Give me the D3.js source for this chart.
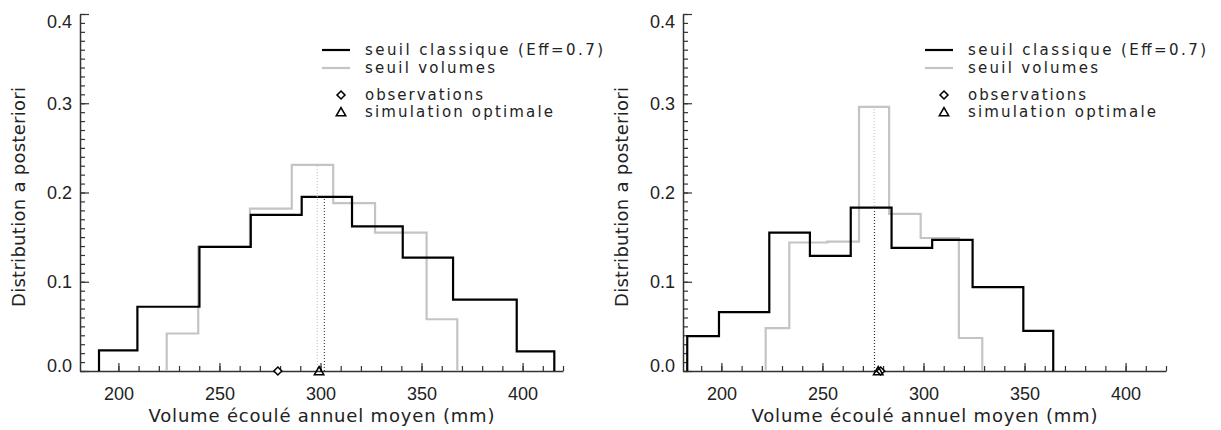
<!DOCTYPE html>
<html>
<head>
<meta charset="utf-8">
<script src="https://cdn.jsdelivr.net/npm/d3@7"></script>
<style>
  body { margin: 0; background: #fff; }
  svg { display: block; font-family: 'DejaVu Sans', sans-serif; }
  .tick text { font-size: 18px; fill: #222; }
  .label { font-size: 18px; fill: #222; }
  .legend-text { font-size: 15px; fill: #222; }
</style>
</head>
<body>
<svg id="chart"></svg>
<script>
const SVG_WIDTH = 1221;
const SVG_HEIGHT = 430;
const PANEL_OFFSET = 603;

// Axis ticks.
const xDomain = [181, 420];
const yDomain = [0, 0.4];
const xMajorTicks = [200, 250, 300, 350, 400];
const xMinorTicks = d3.range(190, 421, 10);
const yMajorTicks = [0, 0.1, 0.2, 0.3, 0.4];
const yMinorTicks = d3.range(0, 41).map(d => d / 100);

const xTitle = 'Volume écoulé annuel moyen (mm)';
const yTitle = 'Distribution a posteriori';
const legendLabels = ['seuil classique (Eff=0.7)', 'seuil volumes', 'observations', 'simulation optimale'];

// Left panel: bin edges and heights.
const leftClassiqueEdges = [190.4, 209.4, 240.1, 265.5, 290.7, 315.6, 340.7, 365.6, 397.1, 415.7];
const leftClassiqueValues = [0.023, 0.072, 0.139, 0.175, 0.195, 0.162, 0.127, 0.080, 0.022];
const leftVolumesEdges = [223.9, 239.5, 265.1, 285.8, 306.3, 327.0, 352.5, 367.7];
const leftVolumesValues = [0.042, 0.139, 0.182, 0.231, 0.188, 0.155, 0.058];
const leftMeanClassique = 301.9;
const leftMeanVolumes = 298.4;
const leftObservation = 278.9;
const leftSimulation = 299.3;

// Right panel.
const rightClassiqueEdges = [183.1, 198.8, 223.7, 243.8, 264.0, 284.2, 304.3, 324.3, 349.4, 364.2];
const rightClassiqueValues = [0.039, 0.066, 0.155, 0.129, 0.183, 0.138, 0.147, 0.094, 0.045];
const rightVolumesEdges = [221.9, 233.6, 252.4, 268.1, 283.0, 298.6, 317.5, 329.1];
const rightVolumesValues = [0.048, 0.144, 0.145, 0.296, 0.176, 0.149, 0.037];
const rightMeanClassique = 275.8;
const rightMeanVolumes = 275.6;
const rightObservation = 278.8;
const rightSimulation = 277.6;

const svg = d3
  .select('#chart')
  .attr('width', SVG_WIDTH)
  .attr('height', SVG_HEIGHT)
  .attr('viewBox', `0 0 ${SVG_WIDTH} ${SVG_HEIGHT}`);

const x = d3.scaleLinear().domain(xDomain).range([80, 563]);
const y = d3.scaleLinear().domain(yDomain).range([371, 14]);

const diamond = d3.symbol().type(d3.symbolDiamond2).size(40);
const triangle = d3.symbol().type(d3.symbolTriangle2).size(62);

// Turn edges/values into a step outline that starts and ends on the axis.
function stepPoints(edges, values) {
  const pts = [[edges[0], 0]];
  values.forEach((v, i) => pts.push([edges[i], v]));
  pts.push([edges[edges.length - 1], 0]);
  return pts;
}

function valueAt(edges, values, v) {
  const i = d3.bisectRight(edges, v) - 1;
  return values[Math.max(0, Math.min(values.length - 1, i))];
}

const stepLine = d3
  .line()
  .x(d => x(d[0]))
  .y(d => y(d[1]))
  .curve(d3.curveStepAfter);

function drawPanel(offset, p) {
  const g = svg.append('g').attr('transform', `translate(${offset},0)`);

  // Minor ticks first, then major ticks with labels.
  g.append('g')
    .attr('transform', `translate(0,${y(0)})`)
    .call(d3.axisBottom(x).tickValues(xMinorTicks).tickSize(-5).tickSizeOuter(0).tickFormat(''))
    .call(a => a.select('.domain').remove());
  g.append('g')
    .attr('transform', `translate(${x(xDomain[0])},0)`)
    .call(d3.axisLeft(y).tickValues(yMinorTicks).tickSize(-5).tickSizeOuter(0).tickFormat(''))
    .call(a => a.select('.domain').remove());

  g.append('g')
    .attr('transform', `translate(0,${y(0)})`)
    .call(d3.axisBottom(x).tickValues(xMajorTicks).tickSize(-8).tickSizeOuter(0).tickPadding(16));
  const yAxis = g
    .append('g')
    .attr('transform', `translate(${x(xDomain[0])},0)`)
    .call(d3.axisLeft(y).tickValues(yMajorTicks).tickSize(-9).tickSizeOuter(0).tickPadding(8).tickFormat(d3.format('.1f')));

  // Edge labels are nudged inside the axis range, as in the original plot.
  yAxis.selectAll('.tick text').attr('y', d => (d === 0 ? -5 : d === 0.4 ? 7.5 : 0));

  g.selectAll('.tick line').attr('stroke', '#333').attr('stroke-width', 1.2);
  g.selectAll('.domain').attr('stroke', '#333').attr('stroke-width', 1.5);

  // Histograms: grey (volumes) under black (classique).
  g.append('path')
    .attr('d', stepLine(stepPoints(p.volEdges, p.volValues)))
    .attr('fill', 'none')
    .attr('stroke', '#c4c4c4')
    .attr('stroke-width', 2.2);
  g.append('path')
    .attr('d', stepLine(stepPoints(p.clsEdges, p.clsValues)))
    .attr('fill', 'none')
    .attr('stroke', '#000')
    .attr('stroke-width', 2.2);

  // Dotted lines at the means, up to the histogram.
  g.append('line')
    .attr('x1', x(p.meanVol)).attr('x2', x(p.meanVol))
    .attr('y1', y(0)).attr('y2', y(valueAt(p.volEdges, p.volValues, p.meanVol)))
    .attr('stroke', '#bbb').attr('stroke-width', 1).attr('stroke-dasharray', '1,2');
  g.append('line')
    .attr('x1', x(p.meanCls)).attr('x2', x(p.meanCls))
    .attr('y1', y(0)).attr('y2', y(valueAt(p.clsEdges, p.clsValues, p.meanCls)))
    .attr('stroke', '#222').attr('stroke-width', 1).attr('stroke-dasharray', '1,2');

  // Observation and optimal simulation markers on the axis.
  g.append('path')
    .attr('d', diamond())
    .attr('transform', `translate(${x(p.obs)},${y(0)})`)
    .attr('fill', '#fff').attr('stroke', '#000').attr('stroke-width', 1.6);
  g.append('path')
    .attr('d', triangle())
    .attr('transform', `translate(${x(p.sim)},${y(0) + 1})`)
    .attr('fill', 'none').attr('stroke', '#000').attr('stroke-width', 1.6);

  // Axis titles.
  g.append('text')
    .attr('class', 'label')
    .attr('x', (x.range()[0] + x.range()[1]) / 2)
    .attr('y', 422)
    .attr('text-anchor', 'middle')
    .attr('textLength', 346)
    .attr('lengthAdjust', 'spacing')
    .text(xTitle);
  g.append('text')
    .attr('class', 'label')
    .attr('transform', 'translate(25,197) rotate(-90)')
    .attr('text-anchor', 'middle')
    .attr('textLength', 220)
    .attr('lengthAdjust', 'spacing')
    .text(yTitle);

  // Legend.
  const legend = g.append('g');
  legend.append('line').attr('x1', 322).attr('x2', 350).attr('y1', 50).attr('y2', 50)
    .attr('stroke', '#000').attr('stroke-width', 2.2);
  legend.append('line').attr('x1', 322).attr('x2', 350).attr('y1', 68).attr('y2', 68)
    .attr('stroke', '#c4c4c4').attr('stroke-width', 2.2);
  legend.append('path').attr('d', diamond()).attr('transform', 'translate(341,95)')
    .attr('fill', '#fff').attr('stroke', '#000').attr('stroke-width', 1.6);
  legend.append('path').attr('d', triangle()).attr('transform', 'translate(341,113)')
    .attr('fill', 'none').attr('stroke', '#000').attr('stroke-width', 1.6);

  const legendY = [55, 72.5, 100, 117];
  const legendW = [238, 130, 118, 188];
  legendLabels.forEach((label, i) => {
    legend.append('text')
      .attr('class', 'legend-text')
      .attr('x', 365)
      .attr('y', legendY[i])
      .attr('textLength', legendW[i])
      .attr('lengthAdjust', 'spacing')
      .text(label);
  });
}

drawPanel(0, {
  clsEdges: leftClassiqueEdges, clsValues: leftClassiqueValues,
  volEdges: leftVolumesEdges, volValues: leftVolumesValues,
  meanCls: leftMeanClassique, meanVol: leftMeanVolumes,
  obs: leftObservation, sim: leftSimulation
});
drawPanel(PANEL_OFFSET, {
  clsEdges: rightClassiqueEdges, clsValues: rightClassiqueValues,
  volEdges: rightVolumesEdges, volValues: rightVolumesValues,
  meanCls: rightMeanClassique, meanVol: rightMeanVolumes,
  obs: rightObservation, sim: rightSimulation
});
</script>
</body>
</html>
